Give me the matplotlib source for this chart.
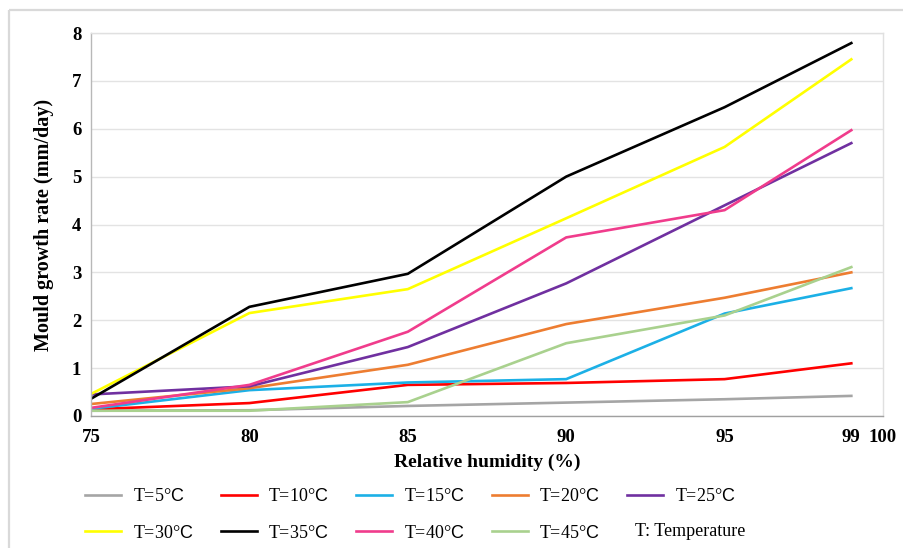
import matplotlib
matplotlib.use("Agg")
import matplotlib.pyplot as plt
from matplotlib.patches import Rectangle

plt.rcParams['font.family'] = ['Liberation Serif', 'DejaVu Serif']
plt.rcParams['mathtext.fontset'] = 'custom'
plt.rcParams['mathtext.rm'] = 'Liberation Serif'
plt.rcParams['mathtext.sf'] = 'Liberation Sans'

# Relative humidity (%) at which growth rate was evaluated
humidity = [75, 80, 85, 90, 95, 99]

# Mould growth rate (mm/day) for each temperature
rate_5 = [0.11, 0.12, 0.21, 0.28, 0.35, 0.42]
rate_10 = [0.14, 0.27, 0.65, 0.69, 0.77, 1.10]
rate_15 = [0.15, 0.54, 0.70, 0.77, 2.14, 2.67]
rate_20 = [0.25, 0.58, 1.07, 1.92, 2.47, 3.00]
rate_25 = [0.45, 0.62, 1.44, 2.77, 4.40, 5.70]
rate_30 = [0.46, 2.15, 2.65, 4.13, 5.62, 7.45]
rate_35 = [0.36, 2.28, 2.97, 5.00, 6.45, 7.79]
rate_40 = [0.17, 0.65, 1.76, 3.73, 4.30, 5.97]
rate_45 = [0.11, 0.11, 0.29, 1.52, 2.10, 3.11]

temperatures = [5, 10, 15, 20, 25, 30, 35, 40, 45]
series = [rate_5, rate_10, rate_15, rate_20, rate_25,
          rate_30, rate_35, rate_40, rate_45]
colors = ['#a5a5a5', '#ff0000', '#1cb0e6', '#ed7d31', '#7030a0',
          '#ffff00', '#000000', '#f03c8c', '#a9d18e']

x_ticks = [75, 80, 85, 90, 95, 99, 100]
y_ticks = [0, 1, 2, 3, 4, 5, 6, 7, 8]

W, H = 904, 548
fig = plt.figure(figsize=(W / 100, H / 100), dpi=100)
fig.patch.set_facecolor('white')

# light outer frame
fig.add_artist(Rectangle((9 / W, 1 - 10 / H), 2, -2, transform=fig.transFigure,
                         fill=False, edgecolor='#d9d9d9', linewidth=1.6))

ax = fig.add_axes([91 / W, 1 - 416 / H, (883 - 91) / W, (416 - 33) / H])

lines = {}
for t, vals, c in zip(temperatures, series, colors):
    ln, = ax.plot(humidity, vals, color=c, linewidth=1.9,
                  solid_joinstyle='round', label=f'T={t}°$\\mathsf{{C}}$')
    lines[t] = ln

ax.set_xlim(75, 100)
ax.set_ylim(0, 8)
ax.set_xticks(x_ticks)
ax.set_xticks([80, 85, 90, 95], minor=True)
ax.set_yticks(y_ticks)
ax.tick_params(axis='both', which='both', length=0)
ax.tick_params(axis='x', which='major', pad=9, labelsize=13.5)
ax.tick_params(axis='y', which='major', pad=7, labelsize=13.5)
for lab in ax.get_xticklabels() + ax.get_yticklabels():
    lab.set_fontweight('bold')

ax.grid(True, which='minor', axis='x', color='#e3e3e3', linewidth=1.0)
ax.grid(True, which='major', axis='y', color='#e3e3e3', linewidth=1.0)
ax.set_axisbelow(True)

ax.spines['left'].set_color('#b8b8b8')
ax.spines['bottom'].set_color('#a0a0a0')
ax.spines['top'].set_color('#e0e0e0')
ax.spines['right'].set_color('#e0e0e0')
for s in ax.spines.values():
    s.set_linewidth(1.0)

ax.set_xlabel('Relative humidity (%)', fontsize=14, fontweight='bold', labelpad=6)
ax.set_ylabel('Mould growth rate (mm/day)', fontsize=14.5, fontweight='bold', labelpad=13)

# legend: two rows, filled column by column
order = [5, 30, 10, 35, 15, 40, 20, 45, 25]
handles = [lines[t] for t in order]
leg = fig.legend(handles=handles, labels=[h.get_label() for h in handles],
                 ncol=5, loc='upper left',
                 bbox_to_anchor=(85 / W, 1 - 488 / H),
                 frameon=False, fontsize=13, handlelength=2.0,
                 handletextpad=0.65, columnspacing=1.5, labelspacing=1.08,
                 borderpad=0.0, borderaxespad=0.0)

fig.text(635 / W, 1 - 532 / H, 'T: Temperature', fontsize=13,
         ha='left', va='center')

fig.savefig('out.png', dpi=100)
